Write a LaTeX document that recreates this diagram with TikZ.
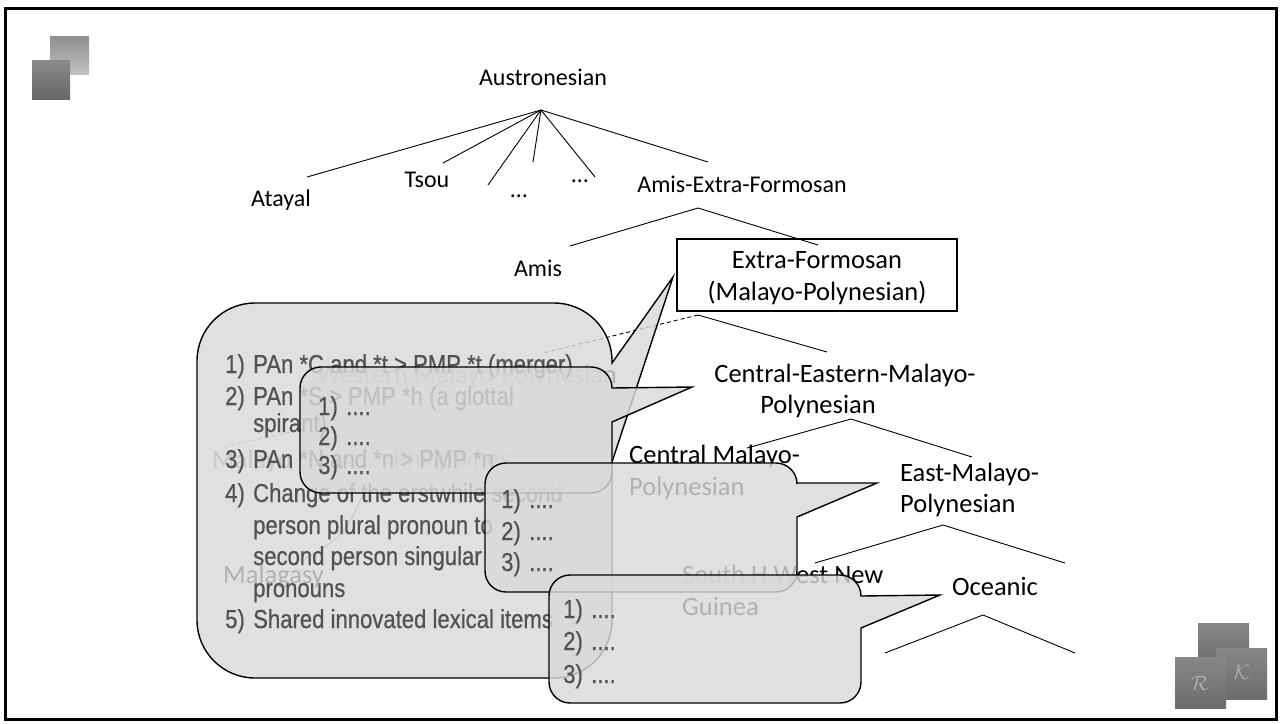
\documentclass[tikz,border=0pt]{standalone}
\usepackage{fontspec}
\setmainfont{Carlito}
\newfontfamily\nf[FakeStretch=0.85,FakeBold=0.6]{Liberation Sans}
\definecolor{cfill}{gray}{0.85}
\definecolor{ctext}{gray}{0.32}
\definecolor{sqLtop}{HTML}{8E8E8E}
\definecolor{sqLbot}{HTML}{C2C2C2}
\definecolor{sqDtop}{HTML}{8A8A8A}
\definecolor{sqDbot}{HTML}{686868}
\definecolor{lgtop}{HTML}{878787}
\definecolor{lgbot}{HTML}{6C6C6C}
\definecolor{lgtxt}{HTML}{B0B0B0}
\tikzset{
  lbl/.style={font=\fontsize{24}{28}\selectfont, inner sep=0pt, anchor=base},
  lblb/.style={font=\fontsize{26.5}{30}\selectfont, inner sep=0pt, anchor=base},
  lblw/.style={font=\fontsize{26.5}{30}\selectfont, inner sep=0pt, anchor=base west},
  br/.style={line width=0.9pt},
  ghostdash/.style={line width=0.9pt, dash pattern=on 4pt off 3pt},
  callout/.style={fill=cfill, fill opacity=0.82, draw=black, line width=1.4pt},
  ctxt/.style={font=\nf\fontsize{26}{30}\selectfont, text=ctext, inner sep=0pt, anchor=base west},
}
\newcommand{\calloutpath}[9]{%
  \path[callout] ({#1+#5},-#2) -- ({#3-#5},-#2) arc[start angle=90,end angle=0,radius=#5]
   -- (#3,-#6) -- (#8,-#9) -- (#3,-#7) -- (#3,{-#4+#5}) arc[start angle=0,end angle=-90,radius=#5]
   -- ({#1+#5},-#4) arc[start angle=270,end angle=180,radius=#5]
   -- (#1,{-#2-#5}) arc[start angle=180,end angle=90,radius=#5] -- cycle;}
\newcommand{\nb}[1]{\makebox[28pt][l]{#1}}
\begin{document}
\begin{tikzpicture}[x=1pt,y=1pt]
\useasboundingbox (0,0) rectangle (1281,-723);
\draw[line width=3pt] (5,-8) rectangle (1276,-719);
% decorative squares
\shade[top color=sqLtop,bottom color=sqLbot] (50,-36) rectangle (89,-74);
\shade[top color=sqDtop,bottom color=sqDbot] (32,-60) rectangle (70,-99);
% logo
\shade[top color=lgtop,bottom color=lgbot] (1198,-623) rectangle (1249,-665);
\shade[top color=lgtop,bottom color=lgbot] (1216,-648) rectangle (1267,-699);
\shade[top color=lgtop,bottom color=lgbot] (1175,-657) rectangle (1226,-708);
\node[text=lgtxt, font=\fontsize{20}{20}\selectfont] (logoR) at (1200,-683) {$\mathcal{R}$};
\node[text=lgtxt, font=\fontsize{20}{20}\selectfont] (logoK) at (1242,-672) {$\mathcal{K}$};

% ---- tree ----
\node[lbl] (aus) at (543,-85) {Austronesian};
\node[lbl] (atayal) at (281,-206) {Atayal};
\node[lbl] (tsou) at (427,-187) {Tsou};
\node[lbl] (dots1) at (519,-197) {\char"2026};
\node[lbl] (dots2) at (580,-182) {\char"2026};
\node[lbl] (amisx) at (742,-192) {Amis-Extra-Formosan};
\node[lbl] (amis) at (538,-276) {Amis};
\coordinate (r0) at (541,-110);
\coordinate (e1) at (307,-177);
\coordinate (e2) at (443,-163);
\coordinate (e3) at (488,-185);
\coordinate (e4) at (533,-162);
\coordinate (e5) at (595,-177);
\coordinate (e6) at (708,-162);
\foreach \e in {e1,e2,e3,e4,e5,e6} \draw[br] (r0) -- (\e);
\coordinate (a0) at (698,-208);
\coordinate (a1) at (570,-246);
\coordinate (a2) at (818,-245);
\draw[br] (a1) -- (a0) -- (a2);
% Extra-Formosan box
\node[draw, line width=1.1pt, minimum width=280pt, minimum height=72pt, inner sep=0pt] (xf) at (817,-275) {};
\node[lblb] (xf1) at (817,-268) {Extra-Formosan};
\node[lblb] (xf2) at (817,-300) {(Malayo-Polynesian)};
\coordinate (x0) at (698,-315);
\coordinate (x1) at (827,-352);
\coordinate (xw) at (543,-353);
\draw[br] (x0) -- (x1);
\draw[ghostdash] (x0) -- (xw);
\node[lblb] (cem1) at (845,-382) {Central-Eastern-Malayo-};
\node[lblb] (cem2) at (818,-413) {Polynesian};
\coordinate (c0) at (851,-419);
\coordinate (c1) at (747,-448);
\coordinate (c2) at (972,-457);
\draw[br] (c1) -- (c0) -- (c2);
\node[lblw] (cmp1) at (629,-463) {Central Malayo-};
\node[lblw] (cmp2) at (629,-495) {Polynesian};
\node[lblw] (emp1) at (900,-481) {East-Malayo-};
\node[lblw] (emp2) at (900,-512) {Polynesian};
\coordinate (m0) at (943,-525);
\coordinate (m1) at (815,-563);
\coordinate (m2) at (1065,-563);
\draw[br] (m1) -- (m0) -- (m2);
\node[lblb] (oce) at (995,-595) {Oceanic};
\coordinate (o0) at (983,-615);
\coordinate (o1) at (885,-653);
\coordinate (o2) at (1075,-653);
\draw[br] (o1) -- (o0) -- (o2);
\node[lblw] (shw1) at (682,-583) {South H West New};
\node[lblw] (shw2) at (682,-615) {Guinea};
% hidden Western Malayo-Polynesian subtree
\node[lblb] (wmp) at (467,-383) {Western Malayo-Polynesian};
\coordinate (w0) at (420,-403);
\coordinate (w1) at (224,-447);
\coordinate (w2) at (420,-440);
\coordinate (w3) at (478,-437);
\draw[ghostdash, gray] (w1) -- (w0) -- (w3);
\draw[ghostdash, gray] (w0) -- (w2);
\node[lblw, text=gray] (mly) at (212,-468) {Malayo};
\node[lblw] (phl) at (393,-467) {Philippines};
\node[lblw] (mlg) at (223,-583) {Malagasy};
\draw[br, gray] (365,-490) .. controls (345,-535) .. (300,-562);

% ---- callout 1 ----
\calloutpath{197}{303}{612}{678}{58}{363}{462}{673}{277}
\node[ctxt] (t11) at (225,-373) {\nb{1)}PAn *C and *t > PMP *t (merger)};
\node[ctxt] (t12) at (225,-405) {\nb{2)}PAn *S > PMP *h (a glottal};
\node[ctxt] (t13) at (253,-432) {spirant)};
\node[ctxt] (t14) at (225,-468) {\nb{3)}PAn *N and *n > PMP *n};
\node[ctxt] (t15) at (225,-502) {\nb{4)}Change of the erstwhile second};
\node[ctxt] (t16) at (253,-534) {person plural pronoun to};
\node[ctxt] (t17) at (253,-565) {second person singular};
\node[ctxt] (t18) at (253,-597) {pronouns};
\node[ctxt] (t19) at (225,-628) {\nb{5)}Shared innovated lexical items};
% ---- callout 2 ----
\calloutpath{300}{367}{612}{493}{21}{388}{422}{692}{387}
\node[ctxt] (t21) at (318,-415) {\nb{1)}....};
\node[ctxt] (t22) at (318,-445) {\nb{2)}....};
\node[ctxt] (t23) at (318,-474) {\nb{3)}....};
% ---- callout 3 ----
\calloutpath{485}{463}{797}{592}{21}{483}{517}{877}{483}
\node[ctxt] (t31) at (501,-508) {\nb{1)}....};
\node[ctxt] (t32) at (501,-540) {\nb{2)}....};
\node[ctxt] (t33) at (501,-571) {\nb{3)}....};
% ---- callout 4 ----
\calloutpath{549}{575}{861}{703}{21}{596}{628}{940}{595}
\node[ctxt] (t41) at (563,-618) {\nb{1)}....};
\node[ctxt] (t42) at (563,-650) {\nb{2)}....};
\node[ctxt] (t43) at (563,-683) {\nb{3)}....};
\end{tikzpicture}
\end{document}
